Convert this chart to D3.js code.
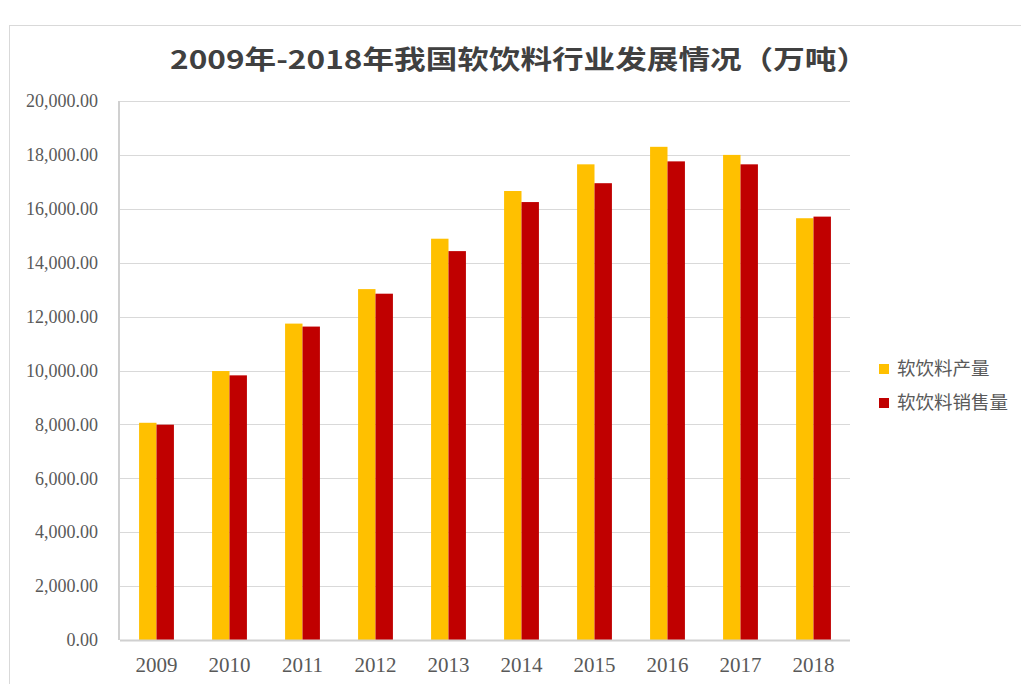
<!DOCTYPE html>
<html>
<head>
<meta charset="utf-8">
<script src="https://cdn.jsdelivr.net/npm/d3@7"></script>
<style>
  body { margin: 0; background: #fff; }
  svg { display: block; }
</style>
</head>
<body>
<svg id="chart" width="1021" height="684"></svg>
<script>
// data
var years = ["2009", "2010", "2011", "2012", "2013", "2014", "2015", "2016", "2017", "2018"];
var production = [8060, 9980, 11740, 13020, 14890, 16660, 17650, 18300, 18000, 15650];
var sales = [7990, 9820, 11630, 12850, 14430, 16250, 16950, 17760, 17650, 15710];
var seriesNames = ["软饮料产量", "软饮料销售量"];
var seriesColors = ["#FFC000", "#C00000"];
var yTicks = [0, 2000, 4000, 6000, 8000, 10000, 12000, 14000, 16000, 18000, 20000];

var svg = d3.select("#chart");

// chart frame
svg.append("rect")
  .attr("x", 9.5).attr("y", 25.5)
  .attr("width", 1100).attr("height", 800)
  .attr("fill", "#fff")
  .attr("stroke", "#d9d9d9");

var margin = { top: 101, left: 120 },
  width = 730,
  height = 539;

var g = svg.append("g").attr("transform", "translate(" + margin.left + "," + margin.top + ")");

var x = d3.scaleBand().domain(years).range([0, width]);
var y = d3.scaleLinear().domain([0, 20000]).range([height, 0]);

// gridlines
g.selectAll(".grid")
  .data(yTicks.slice(1))
  .enter().append("line")
  .attr("x1", 0).attr("x2", width)
  .attr("y1", d => Math.round(y(d)) + 0.5)
  .attr("y2", d => Math.round(y(d)) + 0.5)
  .attr("stroke", "#d9d9d9");

// y axis labels
var yAxis = g.append("g")
  .call(d3.axisLeft(y).tickValues(yTicks).tickSize(0).tickPadding(22)
    .tickFormat(d3.format(",.2f")));
yAxis.select(".domain").remove();
yAxis.selectAll("text")
  .attr("font-family", "'Liberation Serif', serif")
  .attr("font-size", 18)
  .attr("fill", "#595959");

// bars
var barW = x.bandwidth() / (2 + 2.19);
var series = [production, sales];
series.forEach(function (vals, si) {
  g.selectAll(".bar" + si)
    .data(vals)
    .enter().append("rect")
    .attr("x", (d, i) => x(years[i]) + x.bandwidth() / 2 - barW + si * barW)
    .attr("y", d => y(d))
    .attr("width", barW)
    .attr("height", d => height - y(d))
    .attr("fill", seriesColors[si]);
});

// axes lines
g.append("line")
  .attr("x1", 0).attr("x2", width)
  .attr("y1", height + 0.5).attr("y2", height + 0.5)
  .attr("stroke", "#d0d0d0").attr("stroke-width", 2);
g.append("line")
  .attr("x1", -1).attr("x2", -1)
  .attr("y1", 0).attr("y2", height)
  .attr("stroke", "#d0d0d0").attr("stroke-width", 2);

// x axis labels
var xAxis = g.append("g")
  .attr("transform", "translate(0," + height + ")")
  .call(d3.axisBottom(x).tickSize(0).tickPadding(17));
xAxis.select(".domain").remove();
xAxis.selectAll("text")
  .attr("font-family", "'Liberation Serif', serif")
  .attr("font-size", 21)
  .attr("fill", "#595959");

// title
svg.append("text")
  .attr("x", 519).attr("y", 69)
  .attr("text-anchor", "middle")
  .attr("font-family", "'Noto Sans CJK SC', sans-serif")
  .attr("font-weight", "bold")
  .attr("font-size", 26)
  .attr("textLength", 698)
  .attr("lengthAdjust", "spacingAndGlyphs")
  .attr("fill", "#404040")
  .text("2009年-2018年我国软饮料行业发展情况（万吨）");

// legend
var legend = svg.append("g").attr("transform", "translate(879,369)");
seriesNames.forEach(function (name, i) {
  var row = legend.append("g").attr("transform", "translate(0," + i * 34 + ")");
  row.append("rect")
    .attr("x", 0).attr("y", -5)
    .attr("width", 10).attr("height", 10)
    .attr("fill", seriesColors[i]);
  row.append("text")
    .attr("x", 18).attr("y", 0)
    .attr("dy", "0.35em")
    .attr("font-family", "'Noto Sans CJK SC', sans-serif")
    .attr("font-size", 18.5)
    .attr("fill", "#595959")
    .text(name);
});
</script>
</body>
</html>
